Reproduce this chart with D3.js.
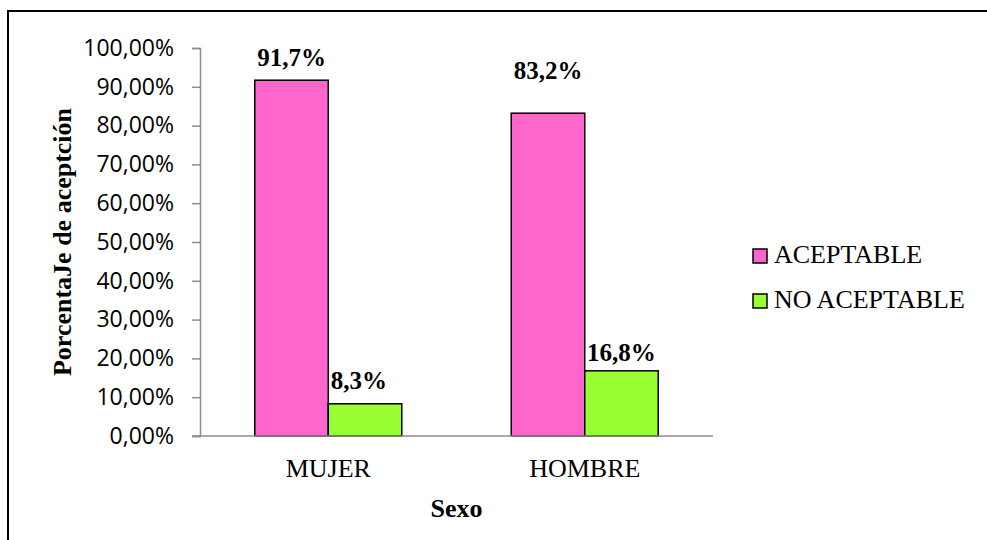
<!DOCTYPE html>
<html>
<head>
<meta charset="utf-8">
<script src="https://cdn.jsdelivr.net/npm/d3@7"></script>
<style>
  html, body { margin: 0; padding: 0; background: #fff; }
  svg { display: block; }
</style>
</head>
<body>
<svg id="chart" width="987" height="540"></svg>
<script>
// Acceptance percentage by sex
const categories = ["MUJER", "HOMBRE"];
const seriesNames = ["ACEPTABLE", "NO ACEPTABLE"];
const aceptable = [0.917, 0.832];
const noAceptable = [0.083, 0.168];
const valueLabels = [["91,7%", "83,2%"], ["8,3%", "16,8%"]];
const yTicks = [0, 0.1, 0.2, 0.3, 0.4, 0.5, 0.6, 0.7, 0.8, 0.9, 1.0];
const colors = ["#FF66CC", "#99FF33"];

const series = [aceptable, noAceptable];

const svg = d3.select("#chart");
const plot = { left: 200, right: 713, top: 48, bottom: 436 };

// Outer frame
svg.append("rect")
  .attr("x", 8).attr("y", 11)
  .attr("width", 1000).attr("height", 560)
  .attr("fill", "#fff").attr("stroke", "#000").attr("stroke-width", 2);

const esLocale = d3.formatLocale({ decimal: ",", thousands: ".", grouping: [3], currency: ["", " €"] });
const pct = esLocale.format(".2%");

const x0 = d3.scaleBand().domain(categories).range([plot.left, plot.right]).paddingInner(0).paddingOuter(0);
const x1 = d3.scaleBand().domain(seriesNames)
  .range([0, x0.bandwidth()]).paddingInner(0).paddingOuter(0.745);
const y = d3.scaleLinear().domain([0, 1]).range([plot.bottom, plot.top]);

// Y axis
const yAxis = svg.append("g")
  .attr("transform", `translate(${plot.left},0)`)
  .call(d3.axisLeft(y).tickValues(yTicks).tickFormat(pct).tickSize(8).tickPadding(18));
yAxis.select(".domain").attr("stroke", "#8c8c8c").attr("stroke-width", 1.5);
yAxis.selectAll(".tick line").attr("stroke", "#8c8c8c").attr("stroke-width", 1.5);
yAxis.selectAll(".tick text")
  .attr("fill", "#000")
  .style("font-family", "'Open Sans', sans-serif")
  .style("font-size", "23px");

// Bars
categories.forEach((cat, ci) => {
  series.forEach((vals, si) => {
    const bx = x0(cat) + x1(seriesNames[si]);
    svg.append("rect")
      .attr("x", bx)
      .attr("y", y(vals[ci]))
      .attr("width", x1.bandwidth())
      .attr("height", y(0) - y(vals[ci]))
      .attr("fill", colors[si])
      .attr("stroke", "#000")
      .attr("stroke-width", 1.5);
  });
});

// X baseline
svg.append("line")
  .attr("x1", plot.left - 8).attr("x2", plot.right)
  .attr("y1", plot.bottom).attr("y2", plot.bottom)
  .attr("stroke", "#8c8c8c").attr("stroke-width", 1.5);

// Value labels (offsets above bar tops)
const labelOffsets = [[14, 34], [15, 10]];
const labelShift = [[0, 0], [-6, 0]];
categories.forEach((cat, ci) => {
  series.forEach((vals, si) => {
    const cx = x0(cat) + x1(seriesNames[si]) + x1.bandwidth() / 2 + labelShift[si][ci];
    svg.append("text")
      .attr("x", cx)
      .attr("y", y(vals[ci]) - labelOffsets[si][ci])
      .attr("text-anchor", "middle")
      .style("font-family", "'Liberation Serif', 'Times New Roman', serif")
      .style("font-weight", "bold")
      .style("font-size", "25px")
      .text(valueLabels[si][ci]);
  });
});

// Category labels
svg.selectAll(".cat")
  .data(categories)
  .enter().append("text")
  .attr("x", d => x0(d) + x0.bandwidth() / 2)
  .attr("y", 477)
  .attr("text-anchor", "middle")
  .style("font-family", "'Liberation Serif', 'Times New Roman', serif")
  .style("font-size", "26px")
  .text(d => d);

// Axis titles
svg.append("text")
  .attr("x", (plot.left + plot.right) / 2)
  .attr("y", 517)
  .attr("text-anchor", "middle")
  .style("font-family", "'Liberation Serif', 'Times New Roman', serif")
  .style("font-weight", "bold")
  .style("font-size", "26px")
  .text("Sexo");

svg.append("text")
  .attr("transform", `translate(71,${(plot.top + plot.bottom) / 2}) rotate(-90)`)
  .attr("text-anchor", "middle")
  .style("font-family", "'Liberation Serif', 'Times New Roman', serif")
  .style("font-weight", "bold")
  .style("font-size", "26px")
  .text("PorcentaJe de aceptción");

// Legend
const legend = svg.append("g").attr("transform", "translate(753,249)");
seriesNames.forEach((name, i) => {
  const g = legend.append("g").attr("transform", `translate(0,${i * 45})`);
  g.append("rect")
    .attr("x", 0).attr("y", 0).attr("width", 14).attr("height", 14)
    .attr("fill", colors[i]).attr("stroke", "#000").attr("stroke-width", 1.5);
  g.append("text")
    .attr("x", 21).attr("y", 14)
    .style("font-family", "'Liberation Serif', 'Times New Roman', serif")
    .style("font-size", "26px")
    .text(name);
});
</script>
</body>
</html>
